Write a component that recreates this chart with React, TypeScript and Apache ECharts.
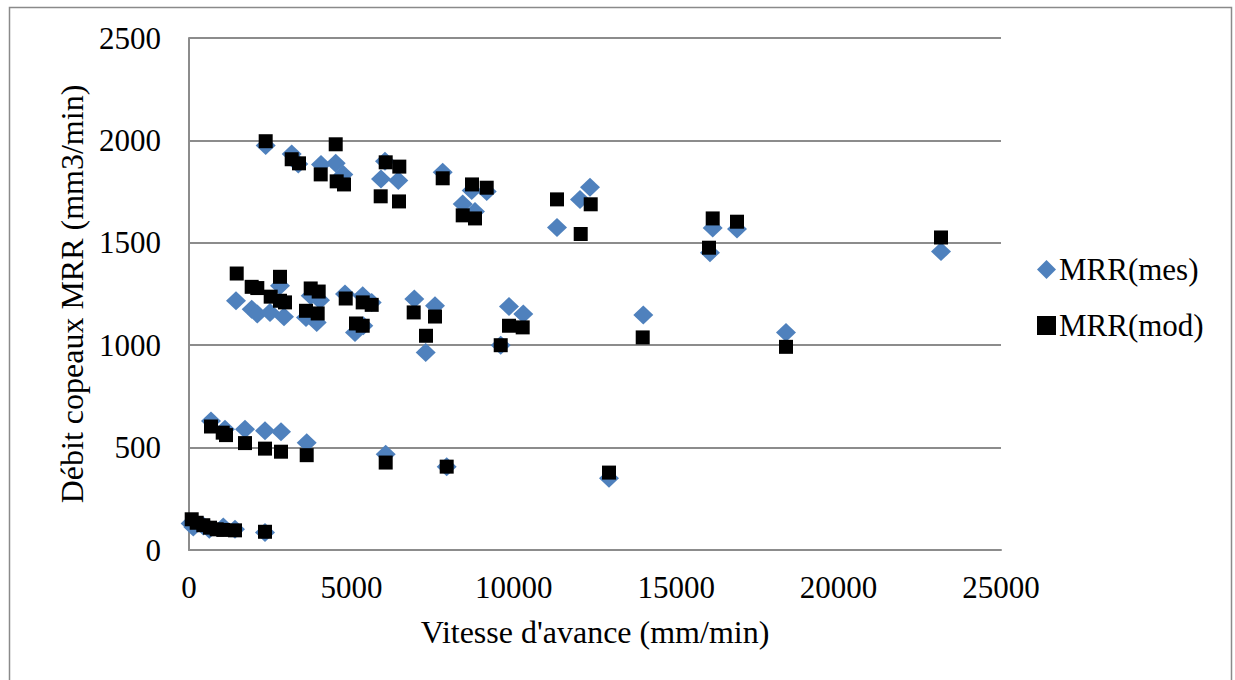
import React, { useEffect, useRef } from "react";
import * as echarts from "echarts";

// MRR(mes) – measured (x: Vitesse d'avance mm/min, y: MRR mm3/min)
const mesX = [
  2361, 3162, 3365, 4064, 4517, 4751, 6034, 5911, 6444, 7811, 8704, 9166, 8427, 8805,
  11330, 12038, 12346, 16124, 16872, 16040, 23153,
  1447, 1930, 2103, 2802, 2494, 2925, 3747, 4033, 3602, 3932, 4803, 5348, 5625, 5111,
  5366, 6937, 7574, 7288, 9597, 9852, 10292, 13987, 18380,
  677, 1108, 1724, 2340, 2833, 3624, 6056, 7934, 12931,
  50, 132, 440, 625, 1056, 1416, 2340,
];
const mesY = [
  1975, 1934, 1885, 1882, 1888, 1833, 1898, 1812, 1804, 1844, 1755, 1751, 1690, 1653,
  1575, 1711, 1771, 1572, 1567, 1452, 1457,
  1217, 1176, 1152, 1290, 1160, 1139, 1241, 1220, 1135, 1111, 1250, 1241, 1209, 1062,
  1095, 1225, 1193, 964, 1000, 1189, 1152, 1147, 1062,
  630, 590, 590, 582, 578, 524, 468, 407, 350,
  129, 112, 117, 101, 112, 101, 85,
];

// MRR(mod) – model
const modX = [
  2361, 3162, 3387, 4055, 4517, 4547, 4772, 6056, 5902, 6475, 6466, 7811, 8713, 9166,
  8427, 8805, 11330, 12060, 12368, 16124, 16872, 16010, 23153,
  1469, 1930, 2103, 2802, 2515, 2802, 2956, 3747, 3993, 3602, 3962, 4825, 5348, 5625,
  5142, 5348, 6918, 7574, 7297, 9597, 9852, 10274, 13969, 18380,
  677, 1038, 1139, 1724, 2340, 2833, 3624, 6056, 7934, 12931,
  83, 237, 440, 647, 853, 1056, 1416, 2340,
];
const modY = [
  1996, 1908, 1888, 1834, 1981, 1800, 1785, 1893, 1727, 1872, 1702, 1815, 1785, 1769,
  1634, 1619, 1712, 1543, 1688, 1619, 1603, 1476, 1526,
  1350, 1285, 1279, 1334, 1237, 1217, 1209, 1277, 1262, 1168, 1155, 1228, 1209, 1197,
  1106, 1095, 1160, 1140, 1046, 1000, 1095, 1087, 1038, 992,
  603, 573, 561, 522, 495, 480, 463, 427, 407, 378,
  150, 133, 121, 109, 101, 98, 96, 89,
];

const seriesNames = ["MRR(mes)", "MRR(mod)"];
const xTitle = "Vitesse d'avance (mm/min)";
const yTitle = "Débit copeaux MRR (mm3/min)";

const FONT = "'Liberation Serif', 'Times New Roman', serif";
const plain = (v: number) => String(v);

export default function App() {
  const ref = useRef<HTMLDivElement>(null);
  useEffect(() => {
    if (!ref.current) return;
    const chart = echarts.init(ref.current, undefined, { renderer: "svg" });
    const mes = mesX.map((x, i) => [x, mesY[i]]);
    const mod = modX.map((x, i) => [x, modY[i]]);
    chart.setOption({
      animation: false,
      backgroundColor: "#ffffff",
      textStyle: { fontFamily: FONT },
      grid: { left: 189, top: 38, width: 812, height: 512 },
      graphic: [
        {
          type: "rect",
          shape: { x: 9.5, y: 7.5, width: 1222, height: 700 },
          style: { fill: "none", stroke: "#8a8a8a", lineWidth: 1.5 },
          z: -1,
        },
      ],
      legend: {
        orient: "vertical",
        left: 1032,
        top: 249,
        itemGap: 25,
        itemWidth: 19,
        itemHeight: 19,
        data: [
          { name: seriesNames[0], icon: "diamond" },
          { name: seriesNames[1], icon: "rect" },
        ],
        textStyle: { fontFamily: FONT, fontSize: 31, color: "#000", padding: [0, 0, 0, -2] },
      },
      xAxis: {
        type: "value",
        min: 0,
        max: 25000,
        interval: 5000,
        name: xTitle,
        nameLocation: "middle",
        nameGap: 66,
        nameTextStyle: { fontFamily: FONT, fontSize: 32, color: "#000" },
        axisLine: { show: true, lineStyle: { color: "#8c8c8c", width: 2 } },
        axisTick: { show: false },
        axisLabel: { fontFamily: FONT, fontSize: 31, color: "#000", margin: 22, formatter: plain },
        splitLine: { show: false },
      },
      yAxis: {
        type: "value",
        min: 0,
        max: 2500,
        interval: 500,
        name: yTitle,
        nameLocation: "middle",
        nameGap: 76,
        nameTextStyle: { fontFamily: FONT, fontSize: 32, color: "#000" },
        axisLine: { show: true, lineStyle: { color: "#8c8c8c", width: 2 } },
        axisTick: { show: false },
        axisLabel: { fontFamily: FONT, fontSize: 31, color: "#000", margin: 28, formatter: plain },
        splitLine: { show: true, lineStyle: { color: "#8c8c8c", width: 2 } },
      },
      series: [
        {
          name: seriesNames[0],
          type: "scatter",
          data: mes,
          symbol: "diamond",
          symbolSize: [20, 19],
          itemStyle: { color: "#4f81bd", opacity: 1 },
          z: 2,
        },
        {
          name: seriesNames[1],
          type: "scatter",
          data: mod,
          symbol: "rect",
          symbolSize: 14,
          itemStyle: { color: "#000000", opacity: 1 },
          z: 3,
        },
      ],
    });
    return () => chart.dispose();
  }, []);
  return (
    <div
      ref={ref}
      style={{ position: "fixed", left: 0, top: 0, width: 1235, height: 680, background: "#fff" }}
    />
  );
}
